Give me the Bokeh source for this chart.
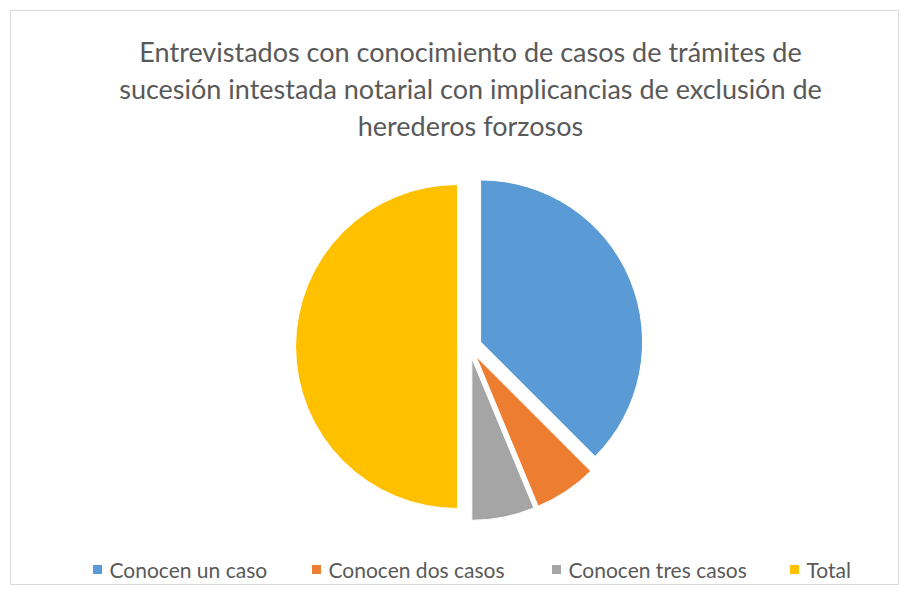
import math
from bokeh.plotting import figure
from bokeh.models import Range1d, ColumnDataSource
from bokeh.core.properties import value
from bokeh.embed import file_html
from bokeh.resources import INLINE

# ---- data ----
title_lines = ["Entrevistados con conocimiento de casos de trámites de",
               "sucesión intestada notarial con implicancias de exclusión de",
               "herederos forzosos"]
categories = ["Conocen un caso", "Conocen dos casos", "Conocen tres casos", "Total"]
values = [6, 1, 1, 8]
colors = ["#5B9BD5", "#ED7D31", "#A5A5A5", "#FFC000"]

# ---- layout ----
W, H = 899, 585
FONT = "Lato"
TXT = "#595959"
cx0, cy0, R, explode = 469, -346, 162, 12
legend_sq_x = [97, 316, 556, 794]
legend_y = -569

p = figure(width=W, height=H, output_backend="svg", toolbar_location=None,
           x_range=Range1d(10, W), y_range=Range1d(-H, -10),
           min_border_left=10, min_border_top=10, min_border_right=0, min_border_bottom=0)
p.axis.visible = False
p.grid.visible = False
p.outline_line_color = "#D9D9D9"
p.outline_line_width = 1
p.background_fill_color = "white"
p.border_fill_color = "white"

total = sum(values)
xs, ys, starts, ends = [], [], [], []
cum = 0
for v in values:
    f0 = cum / total
    f1 = (cum + v) / total
    mid = (f0 + f1) / 2
    xs.append(cx0 + explode * math.sin(2 * math.pi * mid))
    ys.append(cy0 + explode * math.cos(2 * math.pi * mid))
    starts.append(math.pi / 2 - 2 * math.pi * f0)
    ends.append(math.pi / 2 - 2 * math.pi * f1)
    cum += v

src = ColumnDataSource(dict(x=xs, y=ys, start=starts, end=ends, color=colors, cat=categories))
p.wedge(x="x", y="y", radius=R, start_angle="start", end_angle="end", direction="clock",
        fill_color="color", line_color="white", line_width=1, source=src)

# title
p.text(x=[470] * 3, y=[-51, -88, -125], text=title_lines, text_font=value(FONT),
       text_font_size="27px", text_color=TXT, text_align="center", text_baseline="middle")

# legend
p.scatter(x=legend_sq_x, y=[legend_y] * 4, marker="square", size=9, fill_color=colors,
          line_color=None)
p.text(x=[x + 12 for x in legend_sq_x], y=[legend_y] * 4, text=categories,
       text_font=value(FONT), text_font_size="21px", text_color=TXT,
       text_align="left", text_baseline="middle")

open("out.html", "w").write(file_html(p, INLINE))
